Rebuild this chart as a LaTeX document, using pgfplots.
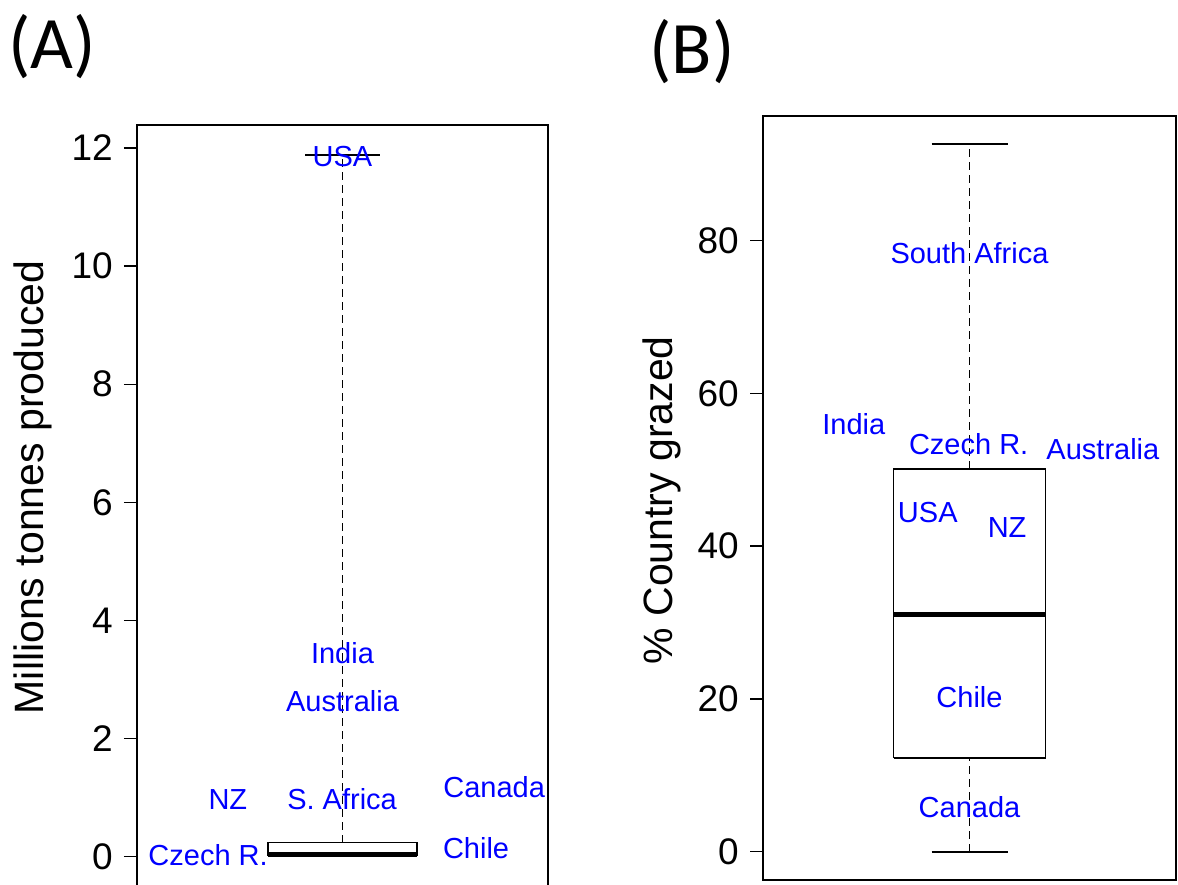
\documentclass[border=0pt]{standalone}
\usepackage{fontspec}
\setmainfont{Liberation Sans}
\newfontfamily\carlito{Carlito}
\usepackage{pgfplots}
\pgfplotsset{compat=1.18}
\tikzset{lab/.style={text=blue, font=\fontsize{29}{32}\selectfont, inner sep=0pt, anchor=center}}
\begin{document}
\begin{tikzpicture}
\useasboundingbox (0pt,0pt) rectangle (1178pt,884pt);
\clip (0pt,0pt) rectangle (1178pt,884pt);
\pgfplotsset{
  rbox/.style={
    scale only axis, anchor=south west,
    axis line style={line width=1.6pt},
    xmin=0, xmax=1, xtick=\empty,
    ytick pos=left, tick align=outside,
    major tick length=13pt,
    major tick style={black, line width=1.4pt},
    yticklabel style={font=\fontsize{37}{40}\selectfont, anchor=east, inner sep=0pt, xshift=-11pt},
    /pgf/number format/assume math mode=true,
    clip=false,
  },
}
% ---------------- Panel A ----------------
\begin{axis}[rbox,
  at={(137pt,-4pt)}, width=411pt, height=763pt,
  ymin=-0.53, ymax=12.39, ytick={0,2,...,12},
  ylabel={Millions tonnes produced},
  every axis y label/.style={at={(axis description cs:-0.2287,0.525)}, rotate=90, anchor=base, font=\fontsize{41}{44}\selectfont},
]
% upper whisker (dashed)
\addplot[black, line width=1.8pt, dash pattern=on 8pt off 5pt] coordinates {(0.5,0.24) (0.5,11.88)};
% whisker cap
\addplot[black, line width=1.6pt] coordinates {(0.409,11.88) (0.591,11.88)};
% box
\addplot[black, line width=1.8pt, fill=white] coordinates {(0.318,0.02) (0.682,0.02) (0.682,0.24) (0.318,0.24) (0.318,0.02)};
% median
\addplot[black, line width=5pt] coordinates {(0.318,0.045) (0.682,0.045)};
\node[lab] at (axis cs:0.5,11.85) {USA};
\node[lab] at (axis cs:0.5,3.45) {India};
\node[lab] at (axis cs:0.5,2.64) {Australia};
\node[lab] at (axis cs:0.221,0.97) {NZ};
\node[lab] at (axis cs:0.499,0.97) {S. Africa};
\node[lab] at (axis cs:0.869,1.17) {Canada};
\node[lab] at (axis cs:0.173,0.03) {Czech R.};
\node[lab] at (axis cs:0.825,0.15) {Chile};
\end{axis}
% ---------------- Panel B ----------------
\begin{axis}[rbox,
  at={(763pt,4pt)}, width=413pt, height=764pt,
  ymin=-3.7, ymax=96.3, ytick={0,20,...,80},
  ylabel={\% Country grazed},
  every axis y label/.style={at={(axis description cs:-0.218,0.497)}, rotate=90, anchor=base, font=\fontsize{41}{44}\selectfont},
]
\addplot[black, line width=1.8pt, dash pattern=on 8pt off 5pt] coordinates {(0.5,50.1) (0.5,92.6)};
\addplot[black, line width=1.8pt, dash pattern=on 8pt off 5pt] coordinates {(0.5,0) (0.5,12.3)};
\addplot[black, line width=1.6pt] coordinates {(0.408,92.6) (0.592,92.6)};
\addplot[black, line width=1.6pt] coordinates {(0.408,0) (0.592,0)};
\addplot[black, line width=1.8pt] coordinates {(0.316,12.3) (0.684,12.3) (0.684,50.1) (0.316,50.1) (0.316,12.3)};
\addplot[black, line width=5pt] coordinates {(0.316,31.0) (0.684,31.0)};
\node[lab] at (axis cs:0.5,78.4) {South Africa};
\node[lab] at (axis cs:0.220,56.0) {India};
\node[lab] at (axis cs:0.498,53.3) {Czech R.};
\node[lab] at (axis cs:0.823,52.7) {Australia};
\node[lab] at (axis cs:0.399,44.4) {USA};
\node[lab] at (axis cs:0.591,42.5) {NZ};
\node[lab] at (axis cs:0.5,20.2) {Chile};
\node[lab] at (axis cs:0.5,5.9) {Canada};
\end{axis}
\node[font=\carlito\fontsize{74}{80}\selectfont, inner sep=0pt] at (52pt,837.5pt) {(A)};
\node[font=\carlito\fontsize{74}{80}\selectfont, inner sep=0pt] at (692pt,832.5pt) {(B)};
\end{tikzpicture}
\end{document}
